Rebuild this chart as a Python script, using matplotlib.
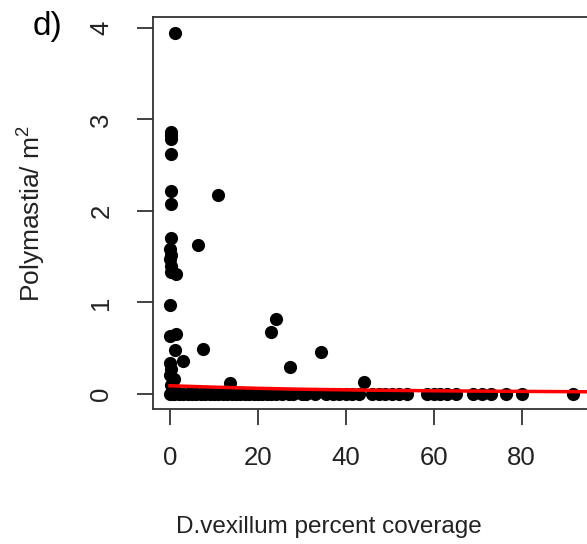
import numpy as np
import matplotlib
matplotlib.use("Agg")
import matplotlib.pyplot as plt

plt.rcParams['font.family'] = ['Liberation Sans', 'DejaVu Sans']
plt.rcParams['mathtext.fontset'] = 'custom'
plt.rcParams['mathtext.rm'] = 'Liberation Sans'
plt.rcParams['mathtext.it'] = 'Liberation Sans'

# points with Polymastia > 0
cover_pos = [1.1, 0.3, 0.3, 0.3, 0.2, 0.2, 0.2, 11.0, 0.2, 6.3,
             0.1, 0.2, 0.1, 0.3, 0.2, 1.3, 0.0, 0.0, 1.3, 1.1,
             7.4, 3.0, 0.1, 0.2, 0.1, 0.8, 0.3, 1.0, 13.7,
             24.1, 22.9, 27.2, 34.3, 44.1]
density_pos = [3.94, 2.86, 2.83, 2.79, 2.62, 2.22, 2.08, 2.17, 1.70, 1.63,
               1.58, 1.52, 1.47, 1.40, 1.33, 1.31, 0.97, 0.63, 0.66, 0.48,
               0.49, 0.36, 0.34, 0.27, 0.21, 0.16, 0.10, 0.06, 0.12,
               0.82, 0.68, 0.30, 0.46, 0.13]

# quadrats with no Polymastia
cover_zero = [0.0, 0.5, 1.0, 2.0, 3.0, 4.0, 5.0, 6.0, 7.0, 8.0, 9.0, 10.0,
              11.0, 12.0, 13.0, 14.0, 15.0, 16.0, 17.0, 18.0, 19.0, 20.0,
              21.0, 22.0, 23.0, 24.0, 25.5, 27.0, 28.0, 30.0, 31.0, 33.0,
              35.5, 37.0, 38.5, 40.0, 41.5, 43.0, 46.0, 47.5, 49.0, 50.5,
              52.0, 54.0, 58.5, 60.0, 61.5, 63.0, 65.0, 69.0, 71.0, 73.0,
              76.5, 80.0, 91.7]

# fitted curve
fit_x = [0, 10, 20, 30, 45, 60, 75, 96]
fit_y = [0.090, 0.075, 0.062, 0.052, 0.042, 0.035, 0.030, 0.024]

W, H = 587, 544
fig = plt.figure(figsize=(W / 100, H / 100), dpi=100)
ax = fig.add_axes([153 / W, 1 - 409 / H, (589 - 153) / W, (409 - 17) / H])

ax.scatter(cover_zero, [0] * len(cover_zero), s=90, color='black', linewidths=0, zorder=2)
ax.scatter(cover_pos, density_pos, s=90, color='black', linewidths=0, zorder=2)
ax.plot(fit_x, fit_y, color='red', lw=2.5, zorder=3)

ax.set_xlim(-3.87, 95.3)
ax.set_ylim(-0.164, 4.12)
ax.set_xticks([0, 20, 40, 60, 80])
ax.set_yticks([0, 1, 2, 3, 4])

txt = '#222222'
for sp in ax.spines.values():
    sp.set_linewidth(1.3)
    sp.set_color('#333333')
ax.tick_params(length=11.5, width=1.3, color='#333333', labelsize=18.5,
               labelcolor=txt, pad=15)
ax.tick_params(axis='y', labelrotation=90, pad=17)
for lab in ax.get_yticklabels():
    lab.set_va('center')

fig.text(329 / W, 1 - 527 / H, 'D.vexillum percent coverage', ha='center', va='center',
         fontsize=17.5, color=txt)
fig.text(32 / W, 1 - 213 / H, 'Polymastia/ m$^2$', ha='center', va='center',
         rotation=90, fontsize=19, color=txt)
fig.text(47 / W, 1 - 27 / H, 'd)', ha='center', va='center', fontsize=24, color='black')

fig.savefig('out.png', dpi=100)
